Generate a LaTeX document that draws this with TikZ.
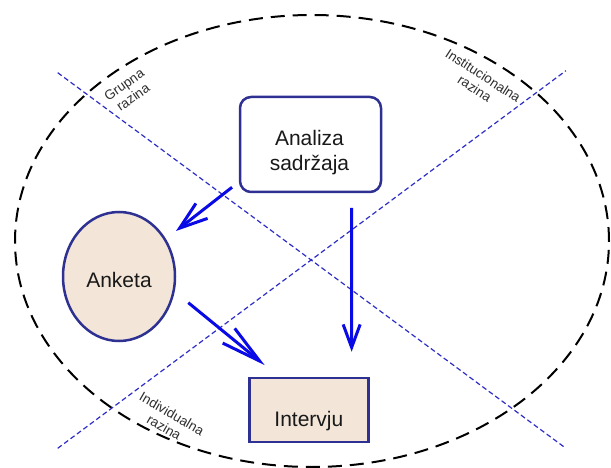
\documentclass[tikz,border=0pt]{standalone}
\usepackage{fontspec}
\setmainfont{Liberation Sans}
\usetikzlibrary{arrows.meta,calc,shapes.geometric}
\definecolor{navy}{RGB}{46,49,146}
\definecolor{arrowblue}{RGB}{10,10,230}
\definecolor{dashblue}{RGB}{45,45,200}
\definecolor{beige}{RGB}{243,230,217}
\definecolor{labelgrey}{RGB}{45,45,45}
\begin{document}
\begin{tikzpicture}[x=1pt,y=-1pt,
  outer/.style={draw=black,line width=2pt,dash pattern=on 14pt off 8pt},
  zone/.style={draw=dashblue,line width=1.2pt,dash pattern=on 5pt off 3pt},
  boxstyle/.style={draw=navy,line width=2.5pt,inner sep=0pt},
  maintext/.style={font=\fontsize{21}{25.3}\selectfont,text=black!90},
  zonelabel/.style={font=\fontsize{13.5}{15.5}\selectfont,text=labelgrey,align=center,inner sep=1pt},
  flow/.style={draw=arrowblue,line width=3pt}]
\useasboundingbox (0,0) rectangle (611,468);
% outer dashed ellipse
\draw[outer] (312,241) ellipse [x radius=297pt, y radius=226pt];
% zone dividers
\coordinate (za1) at (57.7,72.7);
\coordinate (za2) at (565.9,448.3);
\coordinate (zb1) at (57.7,448.3);
\coordinate (zb2) at (565.9,70.7);
\draw[zone] (za1) -- (za2);
\draw[zone] (zb1) -- (zb2);
% zone labels
\node[zonelabel, rotate=35] (lgrupna) at (128.6,90.9) {Grupna\\razina};
\node[zonelabel, rotate=-33] (linst) at (479,82) {Institucionalna\\razina};
\node[zonelabel, rotate=-30] (lindiv) at (168,420.5) {Individualna\\razina};
% main nodes
\node[boxstyle, rounded corners=11pt, fill=white, minimum width=141pt, minimum height=95pt,
      label={[maintext,align=center,yshift=-8pt,xshift=-1pt]center:Analiza\\sadržaja}] (an) at (310.5,144.5) {};
\node[boxstyle, ellipse, fill=beige, minimum width=112pt, minimum height=129pt, maintext,
      text height=22pt, text depth=0pt] (ank) at (119,276.5) {Anketa};
\node[boxstyle, rectangle, fill=beige, minimum width=119pt, minimum height=64pt, maintext,
      text height=48pt, text depth=15pt] (iv) at (308.85,410) {Intervju};
% arrows
\draw[flow, -{Straight Barb[length=28pt,width=19pt]}]
  ($(an.south west)+(-6.7,-6)$) -- ($(ank.center)+(57,-45.5)$);
\draw[flow, -{Straight Barb[length=23pt,width=17pt]}]
  ($(an.south)+(41.1,14.7)$) -- ($(iv.north)+(42.8,-25)$);
\draw[flow, -{Straight Barb[length=40pt,width=19pt]}]
  ($(ank.center)+(69.3,26.2)$) -- ($(iv.north west)+(16.6,-11.6)$);
\end{tikzpicture}
\end{document}
